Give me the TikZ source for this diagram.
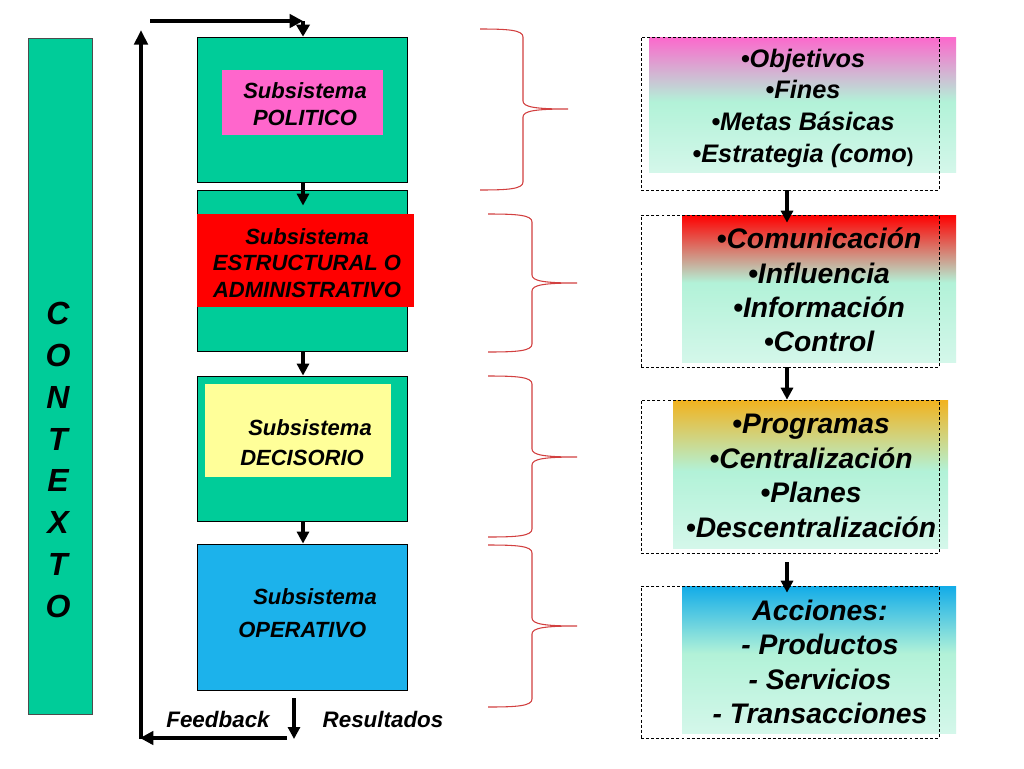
\documentclass[tikz,border=0pt]{standalone}
\usepackage{fontspec}
\setmainfont{Liberation Sans}
\usetikzlibrary{arrows.meta,calc}
\definecolor{cgreen}{RGB}{0,204,153}
\definecolor{cpink}{RGB}{255,102,204}
\definecolor{cred}{RGB}{255,0,0}
\definecolor{cyel}{RGB}{255,255,153}
\definecolor{cblue}{RGB}{28,178,235}
\definecolor{mintA}{RGB}{178,242,216}
\definecolor{mintB}{RGB}{212,247,234}
\definecolor{pinkT}{RGB}{252,104,204}
\definecolor{redT}{RGB}{255,0,0}
\definecolor{orangeT}{RGB}{242,178,30}
\definecolor{blueT}{RGB}{18,172,232}
\definecolor{bracered}{RGB}{210,64,64}
\pgfdeclareverticalshading{shpink}{100bp}{color(0bp)=(mintB); color(25bp)=(mintB); color(51bp)=(mintA); color(75bp)=(pinkT); color(100bp)=(pinkT)}
\pgfdeclareverticalshading{shred}{100bp}{color(0bp)=(mintB); color(25bp)=(mintB); color(52bp)=(mintA); color(75bp)=(redT); color(100bp)=(redT)}
\pgfdeclareverticalshading{shorange}{100bp}{color(0bp)=(mintB); color(25bp)=(mintB); color(51bp)=(mintA); color(75bp)=(orangeT); color(100bp)=(orangeT)}
\pgfdeclareverticalshading{shblue}{100bp}{color(0bp)=(mintB); color(25bp)=(mintB); color(52bp)=(mintA); color(75bp)=(blueT); color(100bp)=(blueT)}
\newcommand\mybrace[6]{%
\draw[brc] (#1,#4) .. controls (#2-15,#4) and (#2,#4+1) .. (#2,#4+8) -- (#2,#5-8) .. controls (#2,#5-2) and (#2+12,#5) .. (#3,#5) .. controls (#2+12,#5) and (#2,#5+2) .. (#2,#5+8) -- (#2,#6-8) .. controls (#2,#6-1) and (#2-15,#6) .. (#1,#6);}
\begin{document}
\begin{tikzpicture}[x=0.75pt,y=-0.75pt,
  gbox/.style={draw=black, line width=0.6pt, fill=cgreen, minimum width=157.5pt, inner sep=0pt},
  ibox/.style={inner sep=0pt},
  lbl/.style={font=\bfseries\itshape\fontsize{16.5}{20.25}\selectfont, align=center, inner sep=0pt},
  rlbl/.style={font=\bfseries\itshape\fontsize{21.2}{25.7}\selectfont, align=center, inner sep=0pt},
  grad/.style={shade, inner sep=0pt},
  dbox/.style={draw=black, line width=0.5pt, dash pattern=on 2.2pt off 1.6pt, minimum width=223.5pt, inner sep=0pt},
  arr/.style={line width=3pt, -{Triangle[length=9pt,width=9pt]}},
  brc/.style={draw=bracered, line width=0.8pt}]
\useasboundingbox (0,0) rectangle (1024,768);
\fill[white] (0,0) rectangle (1024,768);

% CONTEXTO bar
\node[draw=black!70, line width=0.6pt, fill=cgreen, minimum width=48pt, minimum height=507pt, inner sep=0pt] (ctx) at (60,376) {};
\node[font=\bfseries\itshape\fontsize{24}{31.4}\selectfont, align=center, inner sep=0pt] (ctxt) at (58,460) {C\\O\\N\\T\\E\\X\\T\\O};

% left column boxes
\node[gbox, minimum height=108.75pt] (b1) at (302,109.5) {};
\node[gbox, minimum height=120.75pt] (b2) at (302,270.5) {};
\node[gbox, minimum height=108.75pt] (b3) at (302,448.5) {};
\node[gbox, fill=cblue, minimum height=109.5pt] (b4) at (302,617) {};

\node[ibox, fill=cpink, minimum width=120.75pt, minimum height=48.75pt] (pk) at (302.5,102.5) {};
\node[ibox, fill=cred, minimum width=162.75pt, minimum height=69.75pt] (rd) at (305.5,260.5) {};
\node[ibox, fill=cyel, minimum width=139.5pt, minimum height=69.75pt] (yl) at (298,430.5) {};

\node[lbl] (t1) at (305,104) {Subsistema\\POLITICO};
\node[lbl, font=\bfseries\itshape\fontsize{16.5}{20}\selectfont] (t2) at (307,263) {Subsistema\\ESTRUCTURAL O\\ADMINISTRATIVO};
\node[lbl, align=left, anchor=west, font=\bfseries\itshape\fontsize{16.5}{22.5}\selectfont] (t3) at (240,443) {\hspace*{6pt}Subsistema\\DECISORIO};
\node[lbl, align=left, anchor=west, font=\bfseries\itshape\fontsize{16.5}{24.75}\selectfont] (t4) at (238,613) {\hspace*{11.25pt}Subsistema\\OPERATIVO};

% connectors left column
\coordinate (lx) at (303,0);
\draw[arr] (b1.south -| lx) -- ($(b2.north -| lx)+(0,16)$);
\draw[arr] (b2.south -| lx) -- (b3.north -| lx);
\draw[arr] (b3.south -| lx) -- (b4.north -| lx);

% feedback loop
\coordinate (tl) at (150,21);
\coordinate (tr) at (303,21);
\coordinate (fbot) at (141,739);
\coordinate (ftop) at (141,30);
\coordinate (fstart) at (287,738);
\coordinate (fend) at (140,738);
\coordinate (rs) at (294,698);
\coordinate (re) at (294,739);
\draw[arr, line width=3.2pt, -{Triangle[length=11pt,width=10pt]}] (fbot) -- (ftop);
\draw[arr, line width=3.2pt, -{Triangle[length=10pt,width=10pt]}] (tl) -- (tr);
\draw[arr, -{Triangle[length=9pt,width=10pt]}] (tr) -- (b1.north -| lx);
\draw[arr, line width=3.2pt, -{Triangle[length=10pt,width=10pt]}] (fstart) -- (fend);
\draw[arr] (rs) -- (re);
\node[lbl, font=\bfseries\itshape\fontsize{16.8}{20}\selectfont] (fb) at (218,719) {Feedback};
\node[lbl, font=\bfseries\itshape\fontsize{16.8}{20}\selectfont] (res) at (383,719) {Resultados};

% braces
\mybrace{480}{523}{568}{29}{109}{190}
\mybrace{488}{532}{577}{214}{283}{352}
\mybrace{488}{532}{577}{376}{457}{537}
\mybrace{488}{532}{577}{545}{626}{707}

% right column gradients
\node[grad, shading=shpink, minimum width=230.25pt, minimum height=101.25pt] (g1) at (802.5,104.5) {};
\node[grad, shading=shred, minimum width=205.5pt, minimum height=110.25pt] (g2) at (819,288.5) {};
\node[grad, shading=shorange, minimum width=206.25pt, minimum height=111pt] (g3) at (810.5,474) {};
\node[grad, shading=shblue, minimum width=205.5pt, minimum height=110.25pt] (g4) at (819,659.5) {};

% dashed frames
\node[dbox, minimum height=114.75pt] (d1) at (790,113.5) {};
\node[dbox, minimum height=114pt] (d2) at (790,291) {};
\node[dbox, minimum height=114.75pt] (d3) at (790,476.5) {};
\node[dbox, minimum height=114pt] (d4) at (790,662) {};

% right texts
\node[rlbl, font=\bfseries\itshape\fontsize{19}{23.75}\selectfont] (r1) at (803,108) {•Objetivos\\•Fines\\•Metas Básicas\\•Estrategia (como{\upshape\fontsize{15}{15}\selectfont)}};
\node[rlbl] (r2) at (819,290) {•Comunicación\\•Influencia\\•Información\\•Control};
\node[rlbl, font=\bfseries\itshape\fontsize{21.2}{26}\selectfont] (r3) at (811,476) {•Programas\\•Centralización\\•Planes\\•Descentralización};
\node[rlbl] (r4) at (820,662) {Acciones:\\- Productos\\- Servicios\\- Transacciones};

% right connectors
\coordinate (rx) at (787,0);
\draw[arr] (d1.south -| rx) -- ($(d2.north -| rx)+(0,8)$);
\draw[arr] (d2.south -| rx) -- (d3.north -| rx);
\draw[arr] ($(d3.south -| rx)+(0,9)$) -- ($(d4.north -| rx)+(0,7)$);
\end{tikzpicture}
\end{document}
